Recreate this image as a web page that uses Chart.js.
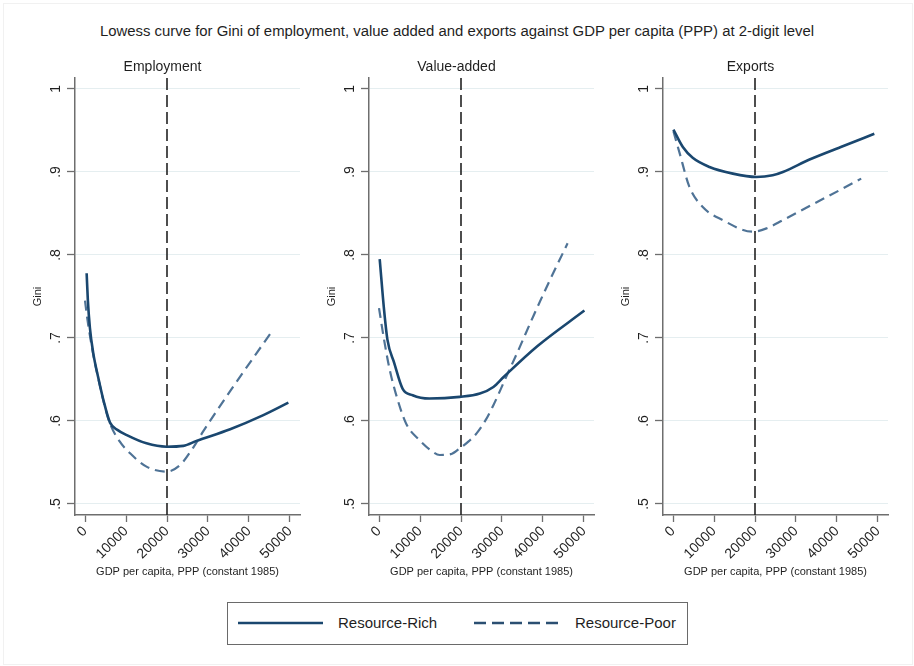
<!DOCTYPE html>
<html>
<head>
<meta charset="utf-8">
<title>Lowess curves for Gini</title>
<script src="https://cdn.jsdelivr.net/npm/chart.js@4.4.1/dist/chart.umd.min.js"></script>
<style>
  html, body { margin: 0; padding: 0; background: #ffffff; }
  body {
    width: 914px; height: 666px; position: relative; overflow: hidden;
    font-family: "Liberation Sans", Arial, sans-serif;
    color: #1f1f1f;
  }
  #frame { position: absolute; left: 3px; top: 3px; right: 1px; bottom: 1px; border: 1px solid #f1f1f1; }
  #title { position: absolute; left: 0; top: 23px; width: 914px; text-align: center; font-size: 14.9px; line-height: 16px; white-space: nowrap; }
  canvas { position: absolute; top: 55px; }
  #legend {
    position: absolute; left: 227px; top: 602px; width: 459px; height: 41px;
    border: 1px solid #6a6a6a; background: #fff;
  }
  #legend svg { position: absolute; left: 0; top: 0; }
  #legend span { position: absolute; top: 11px; font-size: 15px; line-height: 18px; white-space: nowrap; }
</style>
</head>
<body>
<div id="frame"></div>
<div id="title">Lowess curve for Gini of employment, value added and exports against GDP per capita (PPP) at 2-digit level</div>

<canvas id="pEmp" width="285" height="530" style="left:25px"></canvas>
<canvas id="pVal" width="285" height="530" style="left:319px"></canvas>
<canvas id="pExp" width="285" height="530" style="left:613px"></canvas>

<div id="legend">
  <svg width="459" height="41">
    <line x1="10" y1="20" x2="95" y2="20" stroke="#1a476f" stroke-width="2.6"/>
    <line x1="246" y1="20" x2="333" y2="20" stroke="#2b4f72" stroke-width="2.6" stroke-dasharray="12 6"/>
  </svg>
  <span style="left:110px">Resource-Rich</span>
  <span style="left:347px">Resource-Poor</span>
</div>

<script>
// ---- axis ticks ----
const GDP_TICKS  = [0, 10000, 20000, 30000, 40000, 50000];
const GINI_TICKS = [0.5, 0.6, 0.7, 0.8, 0.9, 1];
const THRESHOLD  = 20000;   // reference GDP per capita marked by the vertical line

// ---- Employment ----
const empRichGdp  = [400, 700, 1200, 2000, 3200, 4500, 6100, 8000, 10200, 15000, 19900, 24000, 27200, 35400, 43500, 49600];
const empRichGini = [0.778, 0.745, 0.712, 0.682, 0.653, 0.625, 0.598, 0.589, 0.583, 0.573, 0.569, 0.570, 0.576, 0.590, 0.607, 0.622];
const empPoorGdp  = [0, 600, 1300, 2200, 3300, 4600, 6000, 8500, 11000, 15000, 19900, 23200, 26400, 28900, 35400, 41900, 45900];
const empPoorGini = [0.745, 0.722, 0.700, 0.675, 0.650, 0.622, 0.598, 0.575, 0.561, 0.545, 0.539, 0.547, 0.568, 0.588, 0.636, 0.682, 0.710];

// ---- Value-added ----
const valRichGdp  = [170, 1230, 2050, 3700, 5740, 8200, 12300, 19700, 24600, 27900, 30400, 38600, 50100];
const valRichGini = [0.795, 0.734, 0.698, 0.670, 0.639, 0.631, 0.627, 0.629, 0.633, 0.641, 0.653, 0.690, 0.733];
const valPoorGdp  = [0, 1230, 2600, 4100, 6600, 9850, 12500, 14800, 17500, 19700, 22000, 23800, 26000, 27900, 31200, 33700, 37800, 41900, 46000];
const valPoorGini = [0.736, 0.698, 0.662, 0.633, 0.597, 0.577, 0.565, 0.559, 0.560, 0.567, 0.576, 0.585, 0.601, 0.619, 0.655, 0.682, 0.728, 0.772, 0.814];

// ---- Exports ----
const expRichGdp  = [100, 2400, 4800, 8900, 14600, 20300, 24300, 26800, 33300, 41400, 49100];
const expRichGini = [0.951, 0.930, 0.917, 0.906, 0.898, 0.894, 0.896, 0.900, 0.915, 0.931, 0.946];
const expPoorGdp  = [100, 1600, 4000, 7200, 12100, 19500, 22800, 26800, 33300, 41400, 45900];
const expPoorGini = [0.949, 0.923, 0.882, 0.858, 0.842, 0.828, 0.832, 0.842, 0.859, 0.880, 0.892];

// ---- styling ----
const FONT = '"Liberation Sans", Arial, sans-serif';
const RICH_COLOR = '#1a476f';
const POOR_COLOR = '#4f7396';
const TEXT_COLOR = '#1f1f1f';
const AXIS_COLOR = '#6e6e6e';
const X_RANGE = [-2440, 52440];
const Y_RANGE = [0.4867, 1.0132];

Chart.defaults.font.family = FONT;

function points(xs, ys) {
  return xs.map((x, i) => ({ x: x, y: ys[i] }));
}

function giniLabel(v) {
  return v >= 1 ? '1' : String(v).replace(/^0\./, '.');
}

function drawPanel(canvasId, heading, richX, richY, poorX, poorY) {
  new Chart(document.getElementById(canvasId), {
    type: 'line',
    data: {
      datasets: [
        {
          label: 'Resource-Rich', data: points(richX, richY),
          borderColor: RICH_COLOR, borderWidth: 2.6, pointRadius: 0,
          cubicInterpolationMode: 'monotone', order: 1
        },
        {
          label: 'Resource-Poor', data: points(poorX, poorY),
          borderColor: POOR_COLOR, borderWidth: 2.2, borderDash: [10, 6], pointRadius: 0,
          cubicInterpolationMode: 'monotone', order: 2
        },
        {
          label: 'threshold',
          data: [{ x: THRESHOLD, y: Y_RANGE[0] }, { x: THRESHOLD, y: Y_RANGE[1] }],
          borderColor: '#222222', borderWidth: 1.6, borderDash: [12, 5], pointRadius: 0, order: 3
        }
      ]
    },
    options: {
      responsive: false,
      animation: false,
      devicePixelRatio: 1,
      layout: { padding: { top: 0, right: 10, bottom: 0, left: 0 } },
      plugins: {
        legend: { display: false },
        tooltip: { enabled: false },
        title: {
          display: true, text: heading, color: TEXT_COLOR,
          font: { size: 14, weight: 'normal' },
          padding: { top: 4, bottom: 2.2 }
        }
      },
      scales: {
        x: {
          type: 'linear', min: X_RANGE[0], max: X_RANGE[1],
          afterBuildTicks(scale) { scale.ticks = GDP_TICKS.map(v => ({ value: v })); },
          afterFit(scale) { scale.height = 70; },
          ticks: {
            autoSkip: false, minRotation: 45, maxRotation: 45, padding: 1,
            color: TEXT_COLOR, font: { size: 14 },
            callback: v => String(v)
          },
          grid: { drawOnChartArea: false, tickLength: 7, tickColor: AXIS_COLOR, tickWidth: 1.3 },
          border: { color: AXIS_COLOR, width: 1.5 },
          title: {
            display: true, text: 'GDP per capita, PPP (constant 1985)', color: TEXT_COLOR,
            font: { size: 11 }, padding: { top: 0, bottom: 6.5 }
          }
        },
        y: {
          type: 'linear', min: Y_RANGE[0], max: Y_RANGE[1],
          afterBuildTicks(scale) { scale.ticks = GINI_TICKS.map(v => ({ value: v })); },
          afterFit(scale) { scale.width = 50; },
          ticks: {
            minRotation: 90, maxRotation: 90, crossAlign: 'center', padding: 5,
            color: TEXT_COLOR, font: { size: 14 },
            callback: v => giniLabel(v)
          },
          grid: { color: '#e5eef0', lineWidth: 1, tickLength: 8, tickColor: AXIS_COLOR, tickWidth: 1.3 },
          border: { color: AXIS_COLOR, width: 1.5 },
          title: {
            display: true, text: 'Gini', color: TEXT_COLOR,
            font: { size: 11 }, padding: { top: 6.4 }
          }
        }
      }
    }
  });
}

drawPanel('pEmp', 'Employment',  empRichGdp, empRichGini, empPoorGdp, empPoorGini);
drawPanel('pVal', 'Value-added', valRichGdp, valRichGini, valPoorGdp, valPoorGini);
drawPanel('pExp', 'Exports',     expRichGdp, expRichGini, expPoorGdp, expPoorGini);
</script>
</body>
</html>
